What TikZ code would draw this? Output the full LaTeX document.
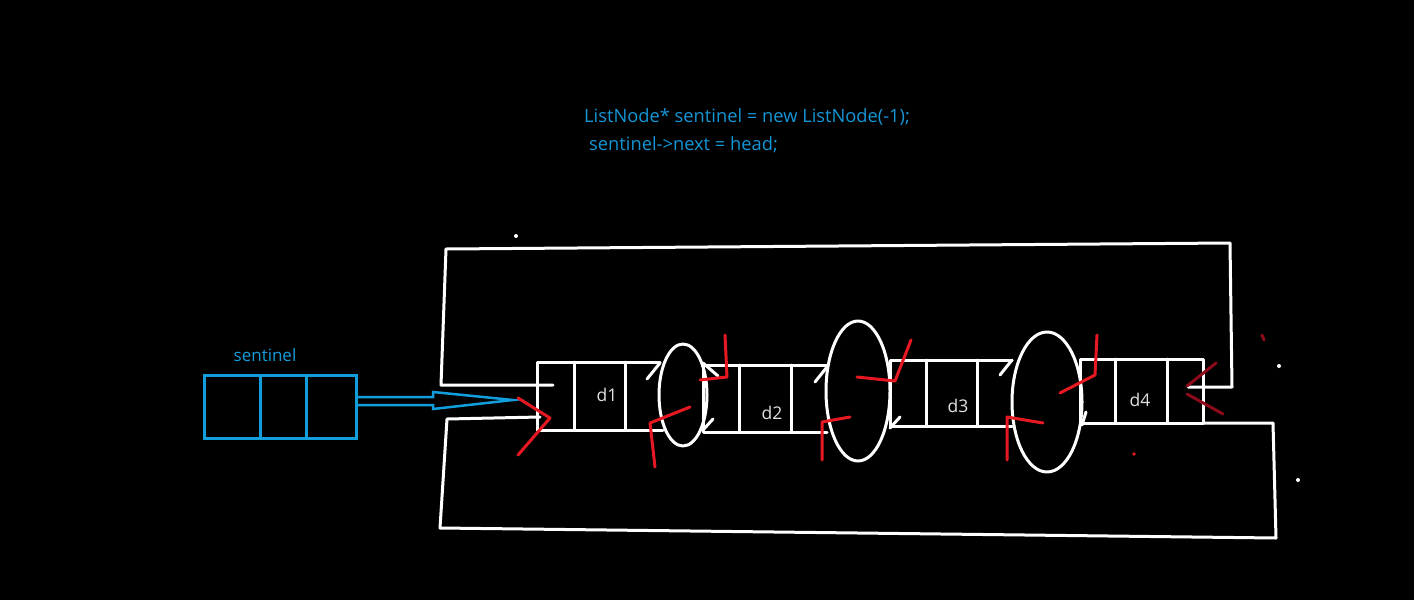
\documentclass[tikz,border=0pt]{standalone}
\usepackage{fontspec}
\setmainfont{Open Sans}
\definecolor{sblue}{RGB}{18,158,220}
\definecolor{cblue}{RGB}{20,150,215}
\definecolor{ared}{RGB}{230,25,35}
\definecolor{dred}{RGB}{140,10,25}
\definecolor{lgray}{RGB}{225,225,225}
\tikzset{
  wl/.style={draw=white, line width=3pt, line cap=round, line join=round},
  bl/.style={draw=sblue, line width=3pt, line join=miter},
  rl/.style={draw=ared, line width=3pt, line cap=round, line join=round},
  dl/.style={draw=dred, line width=3pt, line cap=round},
  lbl/.style={text=lgray, font=\fontsize{17.5}{20}\selectfont, inner sep=0pt},
  code/.style={text=cblue, font=\fontsize{18.3}{22}\selectfont, anchor=west, inner sep=0pt},
}
\begin{document}
\begin{tikzpicture}[x=1pt,y=-1pt]
\fill[black] (0,0) rectangle (1414,600);
\useasboundingbox (0,0) rectangle (1414,600);

% code text
\node[code] (c1) at (584,117) {ListNode* sentinel = new ListNode(-1);};
\node[code] (c2) at (589,145) {sentinel->next = head;};

% sentinel node
\node[text=sblue, font=\fontsize{17}{20}\selectfont, inner sep=0pt] (slabel) at (265,355) {sentinel};
\draw[bl] (204,375) rectangle (356,438);
\draw[bl] (260,375) -- (260,438);
\draw[bl] (306,375) -- (306,438);
% double arrow
\draw[bl, line width=2.5pt] (356,397) -- (433,397) -- (433,392) -- (513,400) -- (433,409) -- (433,405) -- (356,405);

% list nodes
\draw[wl] (660,362) -- (537,362) -- (537,430) -- (663,430);
\draw[wl] (574,362) -- (574,430);
\draw[wl] (625,362) -- (625,430);
\node[lbl] (d1) at (607,395) {d1};

\draw[wl] (827,365) -- (703,365) -- (703,432) -- (827,432);
\draw[wl] (739,365) -- (739,432);
\draw[wl] (791,365) -- (791,432);
\node[lbl] (d2) at (772,413) {d2};

\draw[wl] (1012,360) -- (890,360) -- (890,426) -- (1012,426);
\draw[wl] (926,360) -- (926,426);
\draw[wl] (977,360) -- (977,426);
\node[lbl] (d3) at (958,406) {d3};

\draw[wl] (1080,359) rectangle (1203,423);
\draw[wl] (1115,359) -- (1115,423);
\draw[wl] (1167,359) -- (1167,423);
\node[lbl] (d4) at (1140,400) {d4};

% loops between nodes
\draw[wl] (683,395) ellipse [x radius=24pt, y radius=51pt];
\draw[wl] (858,391) ellipse [x radius=32pt, y radius=70pt];
\draw[wl] (1047,402) ellipse [x radius=35pt, y radius=70pt];

% white ticks
\draw[wl] (647,379) -- (660,363);
\draw[wl] (703,363) -- (718,376);
\draw[wl] (713,419) -- (703,430);
\draw[wl] (815,382) -- (827,367);
\draw[wl] (900,417) -- (890,428);
\draw[wl] (1000,375) -- (1012,360);
\draw[wl] (1086,412) -- (1082,425);

% outer loops
\draw[wl] (1188,387) -- (1232,387) -- (1230,243) -- (446,249) -- (441,385) -- (553,385);
\draw[wl] (1203,423) -- (1273,423) -- (1276,538) -- (440,528) -- (447,419) -- (540,417);

% red strokes
\draw[rl] (518,398) -- (550,418) -- (518,455);
\draw[rl] (690,407) -- (650,423) -- (655,467);
\draw[rl] (725,335) -- (727,377) -- (700,380);
\draw[rl] (857,377) -- (895,381) -- (911,340);
\draw[rl] (850,417) -- (822,422) -- (822,460);
\draw[rl] (1060,393) -- (1095,375) -- (1097,335);
\draw[rl] (1043,423) -- (1007,417) -- (1007,460);
\draw[dl] (1216,363) -- (1187,386);
\draw[dl] (1187,394) -- (1223,414);

% specks
\draw[dl] (1262,335) -- (1264,340);
\fill[ared] (1134,454) circle (1.8pt);
\fill[white] (516,236) circle (2pt);
\fill[white] (1279,366) circle (2pt);
\fill[white] (1298,480) circle (2pt);
\end{tikzpicture}
\end{document}
